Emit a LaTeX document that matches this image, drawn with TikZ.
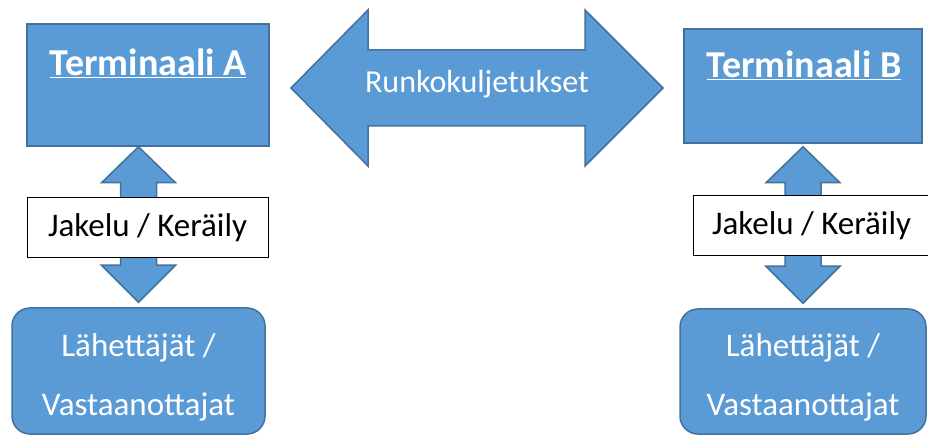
\documentclass[tikz,border=0pt]{standalone}
\usepackage{fontspec}
\setmainfont{Carlito}
\usetikzlibrary{calc}
\definecolor{boxblue}{HTML}{5B9BD5}
\definecolor{boxline}{HTML}{41719C}
\tikzstyle{terminal} = [draw=boxline, fill=boxblue, line width=1.5pt, rectangle, 
minimum width=242pt, minimum height=122pt]
\tikzstyle{title} = [text=white, font=\fontsize{38}{42}\selectfont\bfseries, anchor=base]
\tikzstyle{local} = [draw=black, fill=white, line width=1pt, rectangle, 
minimum height=60pt, inner sep=0pt, font=\fontsize{33}{36}\selectfont]
\tikzstyle{sender} = [draw=boxline, fill=boxblue, line width=1.5pt, rectangle, 
rounded corners=18pt, minimum width=253pt, minimum height=126pt]
\tikzstyle{sendtext} = [text=white, align=center, font=\fontsize{33}{59}\selectfont]
\tikzstyle{blockarrow} = [draw=boxline, fill=boxblue, line width=1.5pt, line join=miter]
\newcommand{\vblockarrow}[2]{%
  \draw [blockarrow] let \p1=(#1), \p2=(#2) in (\p1)
    -- (\x1+37pt,\y1-36pt) -- (\x1+18pt,\y1-36pt) -- (\x1+18pt,\y2+37pt)
    -- (\x1+37pt,\y2+37pt) -- (\x1,\y2) -- (\x1-37pt,\y2+37pt)
    -- (\x1-18pt,\y2+37pt) -- (\x1-18pt,\y1-36pt) -- (\x1-37pt,\y1-36pt) -- cycle;}

\begin{document}
\begin{tikzpicture}[x=1pt,y=-1pt]
      \useasboundingbox (0,0) rectangle (928,435);
      \clip (0,0) rectangle (928,435);
      \node [terminal] (termA) at (148,85) {};
      \node [title] (titleA) at (148,76) {\underline{Terminaali A}};
      \node [terminal, minimum width=238pt, minimum height=114pt] (termB) at (803,86) {};
      \node [title] (titleB) at (804,78) {\underline{Terminaali B}};
      \coordinate (tipL) at (291,88);
      \coordinate (tipR) at (663,88);
      \draw [blockarrow] let \p1=(tipL), \p2=(tipR) in (\p1)
        -- (\x1+77pt,\y1+78pt) -- (\x1+77pt,\y1+38pt) -- (\x2-78pt,\y1+38pt)
        -- (\x2-78pt,\y1+78pt) -- (\p2) -- (\x2-78pt,\y1-78pt)
        -- (\x2-78pt,\y1-38pt) -- (\x1+77pt,\y1-38pt) -- (\x1+77pt,\y1-78pt) -- cycle;
      \node [text=white, font=\fontsize{32}{36}\selectfont, anchor=base] (runko) at (477,93) {Runkokuljetukset};
      \node [sender] (sendA) at (138.5,371) {};
      \node [sendtext] (sendAtext) at (sendA.center |- 0,377) {Lähettäjät /\\Vastaanottajat};
      \node [sender, minimum width=246pt, minimum height=125pt] (sendB) at (803,371.5) {};
      \node [sendtext] (sendBtext) at (sendB.center |- 0,377.5) {Lähettäjät /\\Vastaanottajat};
      \vblockarrow{termA.south -| sendA.north}{$(sendA.north)+(0,-5)$}
      \vblockarrow{$(termB.south -| sendB.north)+(0,3)$}{$(sendB.north)+(0,-5)$}
      \node [local, minimum width=241pt] (localA) at (147.5,228) {Jakelu / Keräily};
      \node [local, minimum width=237pt] (localB) at (811.5,226) {Jakelu / Keräily};
\end{tikzpicture}
\end{document}
